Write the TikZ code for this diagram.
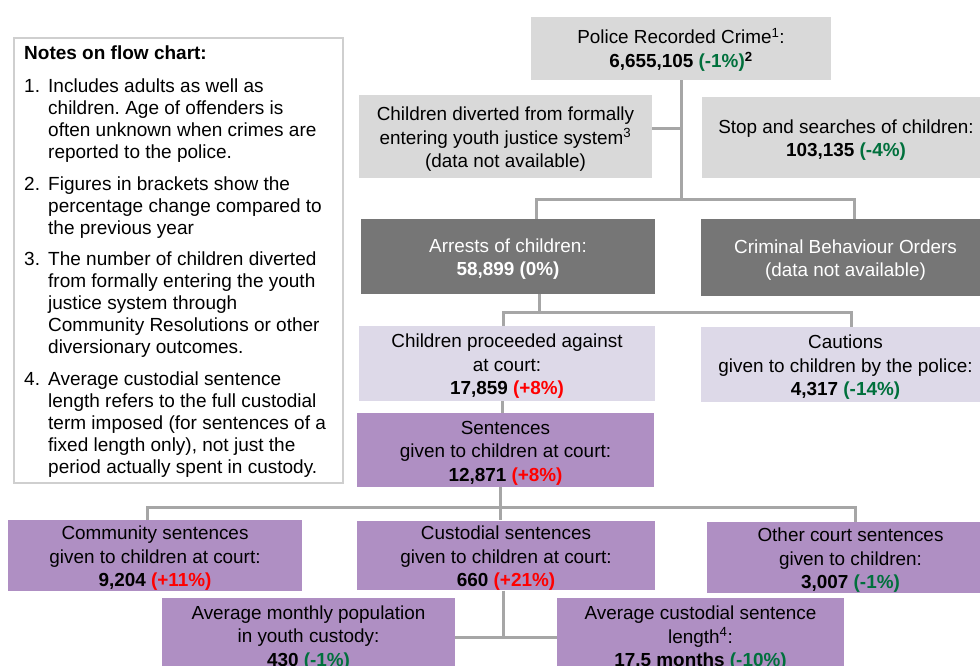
\documentclass[tikz,border=0pt]{standalone}
\usepackage{fontspec}
\setmainfont{Liberation Sans}
\usetikzlibrary{backgrounds}
\definecolor{lgrey}{HTML}{D9D9D9}
\definecolor{dgrey}{HTML}{767676}
\definecolor{lav}{HTML}{DDD9E8}
\definecolor{purp}{HTML}{AF8FC3}
\definecolor{grn}{HTML}{00703C}
\definecolor{rd}{HTML}{FF0000}
\definecolor{lnc}{HTML}{A6A6A6}
\definecolor{nbord}{HTML}{CFCFCF}
\newcommand{\up}[1]{\textbf{\color{rd}#1}}
\newcommand{\dn}[1]{\textbf{\color{grn}#1}}
\newcommand{\tp}{\rule{0pt}{19pt}}
\frenchspacing
\begin{document}
\frenchspacing
\begin{tikzpicture}[x=1pt,y=-1pt,
 box/.style={inner sep=0pt, align=center, font=\fontsize{18.9}{23.5}\selectfont},
 lgbox/.style={box, fill=lgrey},
 dgbox/.style={box, fill=dgrey, text=white},
 lavbox/.style={box, fill=lav},
 pbox/.style={box, fill=purp},
 conn/.style={draw=lnc, line width=3pt},
 notetxt/.style={inner sep=0pt, align=left, anchor=base west, font=\fontsize{19}{22}\selectfont},
]
\useasboundingbox (0,0) rectangle (980,665);
\clip (0,0) rectangle (980,665);

% notes
\node[draw=nbord, line width=1.5pt, fill=white, anchor=north west, minimum width=329pt, minimum height=445pt, inner sep=0pt] (notes) at (13,37) {};
\node[notetxt, font=\bfseries\fontsize{19}{22}\selectfont] (ntitle) at (24,59) {Notes on flow chart:};
\node[notetxt] (n1) at (24,92) {1.};
\node[notetxt] (t1) at (48,158) {Includes adults as well as\\children. Age of offenders is\\often unknown when crimes are\\reported to the police.};
\node[notetxt] (n2) at (24,190) {2.};
\node[notetxt] (t2) at (48,234) {Figures in brackets show the\\percentage change compared to\\the previous year};
\node[notetxt] (n3) at (24,265) {3.};
\node[notetxt] (t3) at (48,353) {The number of children diverted\\from formally entering the youth\\justice system through\\Community Resolutions or other\\diversionary outcomes.};
\node[notetxt] (n4) at (24,385) {4.};
\node[notetxt] (t4) at (48,473) {Average custodial sentence\\length refers to the full custodial\\term imposed (for sentences of a\\fixed length only), not just the\\period actually spent in custody.};

% boxes
\node[lgbox, minimum width=300pt, minimum height=63pt] (prc) at (681,48) {\tp Police Recorded Crime\textsuperscript{1}:\\\textbf{6,655,105} \dn{(-1\%)}\textsuperscript{\textbf{2}}};
\node[lgbox, minimum width=293pt, minimum height=83pt] (div) at (505.5,136.5) {\tp Children diverted from formally\\entering youth justice system\textsuperscript{3}\\(data not available)};
\node[lgbox, minimum width=288pt, minimum height=81pt] (sas) at (846,137.5) {\tp Stop and searches of children:\\\textbf{103,135} \dn{(-4\%)}};
\node[dgbox, minimum width=294pt, minimum height=75pt] (arr) at (508,256.5) {\tp Arrests of children:\\\textbf{58,899 (0\%)}};
\node[dgbox, minimum width=289pt, minimum height=77pt] (cbo) at (845.5,257.5) {\tp Criminal Behaviour Orders\\(data not available)};
\node[lavbox, minimum width=296pt, minimum height=75pt] (proc) at (507,363.5) {\tp Children proceeded against\\at court:\\\textbf{17,859} \up{(+8\%)}};
\node[lavbox, minimum width=289pt, minimum height=75pt] (cau) at (845.5,364.5) {\tp Cautions\\given to children by the police:\\\textbf{4,317} \dn{(-14\%)}};
\node[pbox, minimum width=297pt, minimum height=74pt] (sen) at (505.5,450) {\tp Sentences\\given to children at court:\\\textbf{12,871} \up{(+8\%)}};
\node[pbox, minimum width=294pt, minimum height=71pt] (com) at (155,555.5) {\tp Community sentences\\given to children at court:\\\textbf{9,204} \up{(+11\%)}};
\node[pbox, minimum width=298pt, minimum height=69pt] (cus) at (506,555.5) {\tp Custodial sentences\\given to children at court:\\\textbf{660} \up{(+21\%)}};
\node[pbox, minimum width=287pt, minimum height=71pt] (oth) at (850.5,557.5) {\tp Other court sentences\\given to children:\\\textbf{3,007} \dn{(-1\%)}};
\node[pbox, minimum width=293pt, minimum height=75pt] (pop) at (308.5,635) {\tp Average monthly population\\in youth custody:\\\textbf{430} \dn{(-1\%)}};
\node[pbox, minimum width=287pt, minimum height=75pt] (avg) at (700.5,635.5) {\tp Average custodial sentence\\length\textsuperscript{4}:\\\textbf{17.5 months} \dn{(-10\%)}};

% connectors
\coordinate (b1) at (681,199);
\coordinate (b2) at (539,312);
\coordinate (b3) at (500,507);
\begin{pgfonlayer}{background}
\fill[white] (0,0) rectangle (980,665);
\draw[conn] (prc.south) -- (b1);
\draw[conn] ([yshift=8.5pt]div.east) -- ([yshift=8.5pt]div.east -| b1);
\draw[conn] ([xshift=28pt]arr.north) |- (b1) -| ([xshift=8.5pt]cbo.north);
\draw[conn] ([xshift=31pt]arr.south) -- (b2);
\draw[conn] ([xshift=-4pt]proc.north) |- (b2) -| ([xshift=5.5pt]cau.north);
\draw[conn] ([xshift=-5pt]proc.south) -- ([xshift=-5pt]proc.south |- sen.north);
\draw[conn] ([xshift=-5.5pt]sen.south) -- ([xshift=-5.5pt]sen.south |- cus.north);
\draw[conn] ([xshift=-8pt]com.north) |- (b3) -| ([xshift=4.5pt]oth.north);
\draw[conn] ([xshift=-3pt]cus.south) |- ([yshift=-2pt]pop.east);
\draw[conn] ([yshift=-2pt]pop.east) -- ([yshift=-2pt]pop.east -| avg.west);
\end{pgfonlayer}
\end{tikzpicture}
\end{document}
